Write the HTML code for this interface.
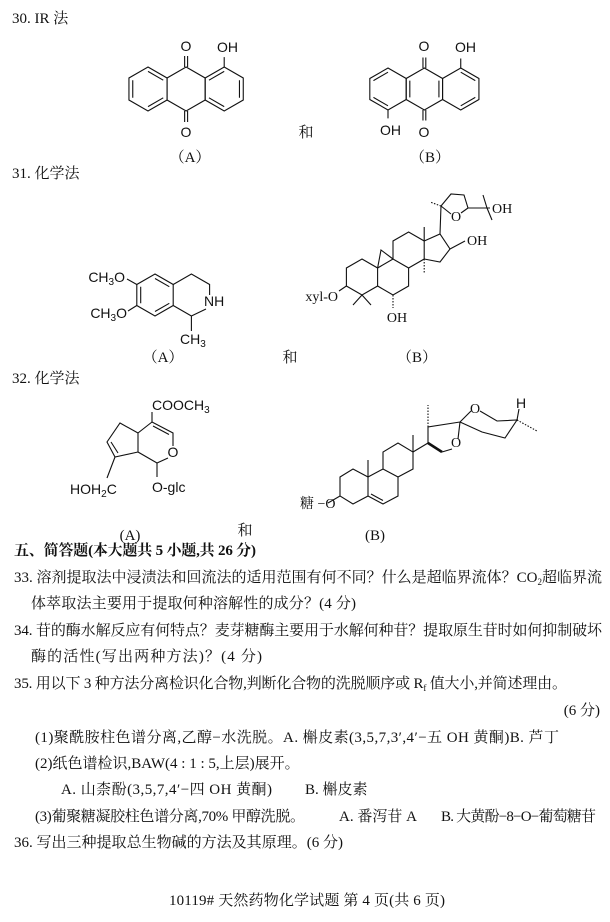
<!DOCTYPE html>
<html><head><meta charset="utf-8"><style>
html,body{margin:0;padding:0;background:#fff;}
svg{display:block;}
.t{font-family:"Liberation Serif","Noto Serif CJK SC",serif;font-size:15px;fill:#111;}
.s{font-family:"Liberation Sans","Noto Sans CJK SC",sans-serif;font-size:14px;fill:#111;}
.r{font-family:"Liberation Serif","Noto Serif CJK SC",serif;font-size:14px;fill:#111;}
.l{stroke:#111;stroke-width:1.1;fill:none;}
</style></head><body>
<svg width="610" height="922" viewBox="0 0 610 922" xmlns="http://www.w3.org/2000/svg">
<!-- headings -->
<text class="t" x="12" y="23">30. IR 法</text>
<text class="t" x="12" y="178">31. 化学法</text>
<text class="t" x="12" y="383">32. 化学法</text>

<!-- 30A -->
<g class="l" transform="translate(148,89) scale(1.1)">
<polygon vector-effect="non-scaling-stroke" points="0,-20 17.32,-10 17.32,10 0,20 -17.32,10 -17.32,-10"/>
<polygon vector-effect="non-scaling-stroke" points="34.64,-20 51.96,-10 51.96,10 34.64,20 17.32,10 17.32,-10"/>
<polygon vector-effect="non-scaling-stroke" points="69.28,-20 86.6,-10 86.6,10 69.28,20 51.96,10 51.96,-10"/>
<path vector-effect="non-scaling-stroke" d="M0,-16 L13.86,-8 M13.86,8 L0,16 M-13.86,8 L-13.86,-8 M55.42,-8 L69.28,-16 M83.14,-8 L83.14,8 M69.28,16 L55.42,8 M33.3,-20 L33.3,-30 M36,-20 L36,-30 M33.3,20 L33.3,30 M36,20 L36,30 M69.28,-20 L69.28,-29"/>
</g>
<text class="s" x="186" y="51" text-anchor="middle">O</text>
<text class="s" x="186" y="137" text-anchor="middle">O</text>
<text class="s" x="217" y="52">OH</text>
<text class="t" x="190" y="162" text-anchor="middle">（A）</text>
<text class="t" x="306" y="137" text-anchor="middle">和</text>

<!-- 30B -->
<g class="l" transform="translate(388,89) scale(1.05)">
<polygon vector-effect="non-scaling-stroke" points="0,-20 17.32,-10 17.32,10 0,20 -17.32,10 -17.32,-10"/>
<polygon vector-effect="non-scaling-stroke" points="34.64,-20 51.96,-10 51.96,10 34.64,20 17.32,10 17.32,-10"/>
<polygon vector-effect="non-scaling-stroke" points="69.28,-20 86.6,-10 86.6,10 69.28,20 51.96,10 51.96,-10"/>
<path vector-effect="non-scaling-stroke" d="M-13.86,-8 L0,-16 M0,16 L-13.86,8 M20.78,-8 L20.78,8 M48.5,-8 L48.5,8 M69.28,-16 L83.14,-8 M83.14,8 L69.28,16 M33.3,-20 L33.3,-30 M36,-20 L36,-30 M33.3,20 L33.3,30 M36,20 L36,30 M69.28,-20 L69.28,-29 M0,20 L0,28"/>
</g>
<text class="s" x="424" y="51" text-anchor="middle">O</text>
<text class="s" x="424" y="137" text-anchor="middle">O</text>
<text class="s" x="455" y="52">OH</text>
<text class="s" x="380" y="135">OH</text>
<text class="t" x="430" y="162" text-anchor="middle">（B）</text>

<!-- 31A -->
<g class="l">
<polygon points="155,274 173.2,284.5 173.2,305.5 155,316 136.8,305.5 136.8,284.5"/>
<path d="M155,278.5 L169.3,286.7 M169.3,303.3 L155,311.5 M140.7,303.3 L140.7,286.7"/>
<path d="M173.2,284.5 L191.4,274 L209.6,284.5 L209.6,295 M206,309 L191.4,316 L173.2,305.5 M191.4,316 L191.4,331 M136.8,284.5 L127,279 M136.8,305.5 L128,311"/>
</g>
<text class="s" x="125" y="282" text-anchor="end">CH<tspan font-size="10" dy="3">3</tspan><tspan dy="-3">O</tspan></text>
<text class="s" x="127" y="318" text-anchor="end">CH<tspan font-size="10" dy="3">3</tspan><tspan dy="-3">O</tspan></text>
<text class="s" x="204" y="306">NH</text>
<text class="s" x="180" y="344">CH<tspan font-size="10" dy="3">3</tspan></text>
<text class="t" x="163" y="362" text-anchor="middle">（A）</text>
<text class="t" x="290" y="362" text-anchor="middle">和</text>
<text class="t" x="417" y="362" text-anchor="middle">（B）</text>

<!-- 31B -->
<g class="l">
<polygon points="362,259 377.6,268 377.6,286 362,295 346.4,286 346.4,268"/>
<polyline points="377.6,268 393,259 408.6,268 408.6,286 393,295 377.6,286"/>
<polyline points="393,259 393,241 408.6,232 424.2,241 424.2,259 408.6,268"/>
<polyline points="424.2,241 440,234 450,249 440,262 424.2,259"/>
<polyline points="377.6,268 381,250 393,259"/>
<path d="M424.2,241 L424.2,227 M362,295 L353,305 M362,295 L371,305 M346.4,286 L339,291 M450,249 L465,241 M440,234 L441,206 M441,206 L451,194 L464,195 L468,208 L461,213 M451,214 L441,206 M468,208 L490,208 M487,208 L483,195 M487,208 L492,220"/>
<path d="M424.2,259 L424.2,274 M393,295 L393,308 M441,206 L430,202" stroke-dasharray="1.5,1.5"/>
</g>
<text class="r" x="338" y="301" text-anchor="end">xyl-O</text>
<text class="r" x="397" y="322" text-anchor="middle">OH</text>
<text class="r" x="467" y="245">OH</text>
<text class="r" x="456" y="221" text-anchor="middle">O</text>
<text class="r" x="492" y="213">OH</text>

<!-- 32A -->
<g class="l">
<path d="M152,422 L173,433 L173,446 M168,458 L157,463 L138,452 L138,433 L152,422 M153,426 L169,434.5"/>
<path d="M138,433 L120,423 L107,442 L115,457 L138,452 M111,442 L118,453"/>
<path d="M115,457 L107,478 M157,463 L157,477 M152,422 L152,412"/>
</g>
<text class="s" x="173" y="457" text-anchor="middle">O</text>
<text class="s" x="152" y="410">COOCH<tspan font-size="10" dy="3">3</tspan></text>
<text class="s" x="70" y="494">HOH<tspan font-size="10" dy="3">2</tspan><tspan dy="-3">C</tspan></text>
<text class="s" x="152" y="492">O-glc</text>

<!-- 32B -->
<g class="l" stroke-width="1">
<polygon points="340,477 353,469 368,477 368,496 353,504 340,496"/>
<polyline points="368,477 383,469 398,477 398,496 383,504 368,496"/>
<path d="M371,494 L383,500.5"/>
<polyline points="383,469 383,452 398,443 413,452 413,469 398,477"/>
<polyline points="413,452 428,443 M442,452 442,469 413,469"/>
<path d="M428,443 L442,452" stroke-width="2.6"/>
<path d="M368,477 L368,460 M413,452 L413,435 M428,443 L428,427 L460,422 M460,422 L458,439 M452,449 L442,452 M460,422 L471,411 M480,411 L497,421 L517,420 L505,438 L482,432 L460,422 M517,420 L519,409 M328,503 L340,496"/>
<path d="M428,427 L428,405 M517,420 L537,431" stroke-dasharray="1.5,1.5"/>
</g>
<text class="r" x="456" y="447" text-anchor="middle" font-size="12">O</text>
<text class="r" x="475" y="413" text-anchor="middle" font-size="12">O</text>
<text class="s" x="521" y="408" text-anchor="middle" font-size="10">H</text>
<text class="r" x="300" y="508" font-size="12">糖 −O</text>
<text class="t" x="130" y="540" text-anchor="middle">(A)</text>
<text class="t" x="245" y="535" text-anchor="middle">和</text>
<text class="t" x="375" y="540" text-anchor="middle">(B)</text>

<!-- questions -->
<text class="t" x="14" y="555" font-weight="bold" textLength="242">五、简答题(本大题共 5 小题,共 26 分)</text>
<text class="t" x="14" y="582" textLength="588">33. 溶剂提取法中浸渍法和回流法的适用范围有何不同？什么是超临界流体？CO<tspan font-size="9" dy="3">2</tspan><tspan dy="-3">超临界流</tspan></text>
<text class="t" x="31" y="608" textLength="325">体萃取法主要用于提取何种溶解性的成分？(4 分)</text>
<text class="t" x="14" y="635" textLength="588">34. 苷的酶水解反应有何特点？麦芽糖酶主要用于水解何种苷？提取原生苷时如何抑制破坏</text>
<text class="t" x="31" y="661" textLength="231">酶的活性(写出两种方法)？(4 分)</text>
<text class="t" x="14" y="688" textLength="553">35. 用以下 3 种方法分离检识化合物,判断化合物的洗脱顺序或 R<tspan font-size="9" dy="3">f</tspan><tspan dy="-3"> 值大小,并简述理由。</tspan></text>
<text class="t" x="600" y="715" text-anchor="end">(6 分)</text>
<text class="t" x="35" y="742" textLength="524">(1)聚酰胺柱色谱分离,乙醇−水洗脱。A. 槲皮素(3,5,7,3′,4′−五 OH 黄酮)B. 芦丁</text>
<text class="t" x="35" y="768">(2)纸色谱检识,BAW(4 : 1 : 5,上层)展开。</text>
<text class="t" x="61" y="794" textLength="211">A. 山柰酚(3,5,7,4′−四 OH 黄酮)</text>
<text class="t" x="305" y="794">B. 槲皮素</text>
<text class="t" x="35" y="821" textLength="270">(3)葡聚糖凝胶柱色谱分离,70% 甲醇洗脱。</text>
<text class="t" x="339" y="821">A. 番泻苷 A</text>
<text class="t" x="441" y="821" textLength="155">B. 大黄酚−8−O−葡萄糖苷</text>
<text class="t" x="14" y="847" textLength="329">36. 写出三种提取总生物碱的方法及其原理。(6 分)</text>
<text class="t" x="169" y="905" textLength="276">10119# 天然药物化学试题 第 4 页(共 6 页)</text>
</svg>
</body></html>
